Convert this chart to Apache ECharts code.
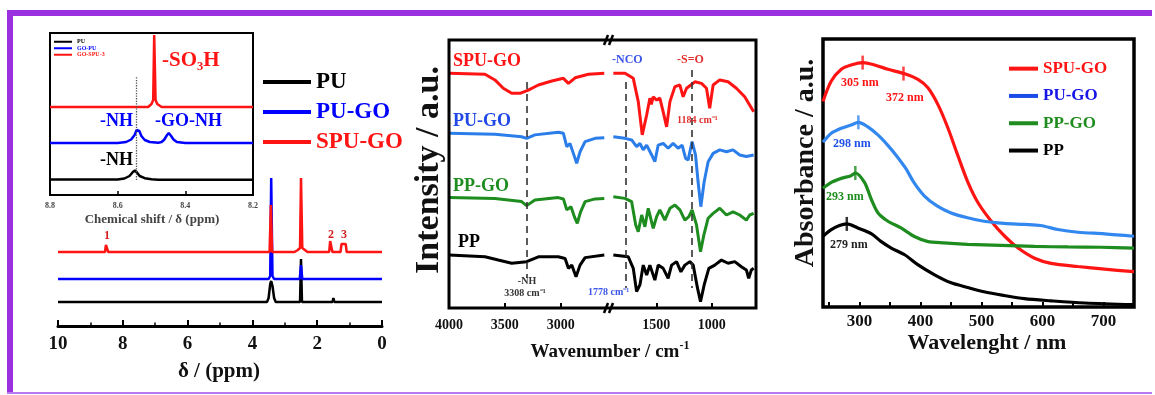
<!DOCTYPE html>
<html><head><meta charset="utf-8">
<script src="https://cdn.jsdelivr.net/npm/echarts@6/dist/echarts.min.js"></script>
<style>html,body{margin:0;padding:0;background:#fff}#c{width:1155px;height:395px}</style>
</head><body><div id="c"></div>
<script>
// ---------- NMR main spectrum (ppm, relative intensity) ----------
const nmrPU = [[10,24],[3.55,24],[3.5,28],[3.45,42],[3.42,45],[3.38,40],[3.33,28],[3.28,24],[2.53,24],[2.5,67],[2.47,24],[1.53,24],[1.5,28],[1.47,24],[0,24]];
const nmrPUGO = [[10,47],[3.5,47],[3.45,50],[3.42,148],[3.38,50],[3.33,47],[3.0,47],[2.95,49],[2.9,47],[2.85,49],[2.8,47],[2.54,47],[2.5,61],[2.46,47],[2.0,47],[1.97,49],[1.94,47],[0,47]];
const nmrSPUGO = [[10,74],[8.55,74],[8.52,81],[8.48,81],[8.45,74],[3.47,74],[3.43,121],[3.39,74],[2.7,74],[2.6,76],[2.53,78],[2.5,148],[2.46,78],[2.4,76],[2.3,74],[1.63,74],[1.6,85],[1.56,85],[1.53,74],[1.28,74],[1.25,82],[1.12,82],[1.09,74],[0.85,74],[0.8,76],[0.75,74],[0,74]];
const nmrTicks = [10, 8, 6, 4, 2, 0];
// ---------- NMR inset (8.8 - 8.2 ppm) ----------
const insPU = [[8.8,15.5],[8.6,15.5],[8.58,16.5],[8.565,19],[8.555,23],[8.549,24.5],[8.543,22.5],[8.535,19],[8.52,16.8],[8.5,15.8],[8.48,15.3],[8.2,15.3]];
const insGOPU = [[8.8,52],[8.6,52],[8.575,53],[8.56,55.5],[8.55,60],[8.544,65],[8.541,67],[8.536,64],[8.53,59],[8.52,55],[8.505,53],[8.48,52.3],[8.47,53],[8.462,55.5],[8.455,59.5],[8.449,62],[8.443,59.5],[8.435,55.5],[8.425,53],[8.4,52],[8.2,52]];
const insGOSPU = [[8.8,88],[8.66,88],[8.655,89.5],[8.65,88],[8.51,88],[8.5,91],[8.495,95],[8.492,160],[8.488,95],[8.483,91],[8.47,88],[8.425,88],[8.42,90],[8.415,88],[8.32,88],[8.315,89.5],[8.31,88],[8.2,88]];
// ---------- FTIR (wavenumber, offset transmittance) ----------
const irSPU_hi = [[4000,87.6],[3678,87.2],[3589,85.1],[3514,82],[3439,80.1],[3364,80.1],[3290,81.3],[3200,83.2],[3080,84.7],[2976,85.7],[2931,83.8],[2871,85.9],[2752,87.2],[2610,87.6]];
const irSPU_lo = [[1888,87.6],[1783,87.6],[1708,85.7],[1663,77],[1627,64.6],[1587,72],[1558,78.3],[1545,76],[1528,78.8],[1497,77.6],[1468,78.3],[1438,73.2],[1407,67.6],[1377,77],[1332,82.6],[1287,83.2],[1258,78.8],[1227,82],[1188,83.2],[1152,84.4],[1092,83.8],[1047,82],[1018,74.5],[987,83.2],[927,85.1],[852,84.4],[777,82],[702,78.8],[621,73.2]];
const irPUGO_hi = [[4000,65.2],[3589,64.8],[3350,63.9],[3305,63.3],[3231,64.6],[3022,65.6],[2976,65.2],[2946,60.2],[2917,61.4],[2887,57.7],[2857,54],[2827,58.3],[2782,62.1],[2692,63.3],[2610,63.5]];
const irPUGO_lo = [[1888,63.9],[1783,63.3],[1723,62.7],[1678,60.2],[1648,61.4],[1618,59],[1587,60.8],[1542,57.1],[1513,54.6],[1483,60.8],[1438,61.4],[1393,59.6],[1348,61.4],[1303,59.6],[1267,60.8],[1236,55.9],[1213,55.2],[1177,62.1],[1146,57.1],[1123,47.1],[1098,37.8],[1068,47.1],[1032,54.6],[987,57.7],[927,59],[867,58.3],[807,59],[747,57.1],[687,56.5],[621,57.1]];
const irPPGO_hi = [[4000,41.2],[3589,40.9],[3350,39.7],[3305,38.2],[3231,40.3],[3022,41.2],[2976,40.7],[2946,36.6],[2908,37.8],[2878,34.1],[2852,31.6],[2822,35.9],[2782,39.7],[2692,40.7],[2610,40.9]];
const irPPGO_lo = [[1888,41.5],[1783,40.9],[1723,39.7],[1686,31],[1663,28.5],[1632,34.7],[1603,30.3],[1573,37.2],[1528,29.7],[1497,34.1],[1468,36.6],[1423,32.8],[1377,37.2],[1332,38.4],[1287,36.6],[1242,32.8],[1206,34.1],[1177,36.6],[1137,31],[1101,21],[1071,27.2],[1032,33.5],[987,35.3],[927,37.2],[867,34.7],[807,35.9],[747,34.7],[687,32.8],[657,34.7],[621,35.3]];
const irPP_hi = [[4000,19.8],[3678,19.1],[3559,17.9],[3439,16.7],[3305,17.3],[3200,19.1],[3022,19.1],[2961,18.5],[2931,14.8],[2901,16],[2863,11.7],[2827,16],[2782,18.8],[2610,19.8]];
const irPP_lo = [[1888,19.8],[1753,19.1],[1708,14.8],[1678,6.1],[1648,8.6],[1618,16],[1587,12.3],[1558,16],[1513,10.4],[1483,16],[1438,14.8],[1393,11.1],[1362,16],[1317,17.3],[1278,13.5],[1242,16],[1197,17.3],[1167,16],[1128,7.4],[1101,2.4],[1068,8.6],[1026,14.8],[972,16],[912,17.9],[852,16.7],[792,17.3],[732,15.4],[687,14.2],[666,11.1],[642,14.2],[621,14.8]];
const irTicksHi = [3000, 3500, 4000];
const irTicksLo = [1000, 1500];
// ---------- UV-Vis (nm, absorbance) ----------
const uvSPU = [[240,76.7],[253.6,84.3],[270,88.7],[286,90.3],[305.6,91.2],[324.7,90.3],[346.6,88.7],[374,87],[395.7,84.9],[412,81.8],[428.5,75.5],[445,66.7],[461,56.6],[477.7,46.5],[494,39],[516,32],[538,26.4],[560,22],[587,18.2],[614,16.3],[658,15.1],[702,14.1],[750,13.2]];
const uvPUGO = [[240,61.5],[253.6,64.8],[270,66.7],[286,67.9],[298,68.9],[313,67.3],[330,64.2],[346,60.4],[362,56],[376,51.6],[389,46.5],[406,41.5],[427,37.7],[449,35.2],[477,33.3],[504,32],[537,31.2],[570,30.8],[597,30.4],[625,28.9],[658,27.9],[702,27.3],[750,26.4]];
const uvPPGO = [[240,44.3],[253.6,46.5],[270,48],[286,49],[293,50],[308,46.5],[319,40.3],[330,35.2],[346.5,32],[368,29.5],[389,26.4],[411,24.5],[438,23.9],[477,23.4],[532,23],[587,22.6],[642,22.4],[696,22.3],[750,22]];
const uvPP = [[240,26.4],[253.6,28.9],[267,30.4],[279,31],[297,29.5],[319,27.4],[335,24.5],[352,22],[374,19.5],[396,15.7],[423,12],[449,9.1],[477,7.3],[504,5.7],[537,4.3],[570,3.1],[614,2.3],[669,1.5],[750,0.9]];
const uvPeaksSPU = [[305,91.2],[372,87.1]];
const uvPeaksPUGO = [[298,68.9]];
const uvPeaksPPGO = [[293,50]];
const uvPeaksPP = [[279,31]];
const uvTickVals = [250,300,350,400,450,500,550,600,650,700,750];
const uvLabelVals = [300,400,500,600,700];

const F = "'Liberation Serif','Times New Roman',serif";
const C = {red:'#ff1414', nblue:'#0000ff', irBlue:'#2b7de9', green:'#1e8c1e', uvBlue:'#3388f0', black:'#000'};

function line(name, data, gi, color, width, extra) {
  return Object.assign({type:'line', name, data, xAxisIndex:gi, yAxisIndex:gi, showSymbol:false, symbol:'none',
    lineStyle:{color, width}, itemStyle:{color}, animation:false, silent:true}, extra || {});
}
function marks(data, color) {
  return {type:'scatter', name:'mk', data, xAxisIndex:4, yAxisIndex:4, symbol:'rect', symbolSize:[2.5,14],
    itemStyle:{color}, animation:false, silent:true, z:5};
}
function T(text, x, y, size, color, align, extra) {
  const el = {type:'text', x, y, z:100, silent:true,
    style:{text, fill:color, font:'bold ' + size + 'px ' + F, align:align || 'left', verticalAlign:'middle'}};
  if (extra) { Object.assign(el, extra.el || {}); Object.assign(el.style, extra.style || {}); }
  return el;
}
const dash = {symbol:'none', silent:true, label:{show:false}, lineStyle:{type:[7,5], color:'#333', width:1.6}, animation:false};
const plain = v => String(Math.round(v));

const axisFont = {fontFamily:F, fontWeight:'bold', color:'#111'};
const option = {
  backgroundColor:'#fff',
  animation:false,
  grid:[
    {left:58, top:176, width:324, height:150, outerBoundsMode:'none'},
    {left:50, top:33, width:203, height:162, show:true, borderColor:'#000', borderWidth:2, backgroundColor:'transparent', outerBoundsMode:'none'},
    {left:449, top:40, width:162, height:268, outerBoundsMode:'none'},
    {left:612, top:40, width:144, height:268, outerBoundsMode:'none'},
    {left:823, top:39, width:311, height:268, show:true, borderColor:'#000', borderWidth:3.5, backgroundColor:'transparent', outerBoundsMode:'none'}
  ],
  xAxis:[
    {gridIndex:0, type:'value', min:0, max:10, interval:2, inverse:true,
      axisLine:{show:true, onZero:false, lineStyle:{color:'#000', width:3}},
      axisTick:{show:true, inside:true, length:6, lineStyle:{color:'#000', width:2}},
      minorTick:{show:true, splitNumber:2, length:3.5, lineStyle:{color:'#000', width:1.5}},
      axisLabel:Object.assign({fontSize:19, margin:9, customValues:nmrTicks, formatter:plain}, axisFont), splitLine:{show:false}},
    {gridIndex:1, type:'value', min:8.2, max:8.8, interval:0.2, inverse:true,
      axisLine:{show:true, onZero:false, lineStyle:{color:'#000', width:2}},
      axisTick:{show:true, inside:true, length:4, lineStyle:{color:'#000', width:1.5}},
      axisLabel:{fontFamily:F, fontWeight:'bold', color:'#444', fontSize:8, margin:7, formatter:v => Number(v).toFixed(1)},
      splitLine:{show:false}},
    {gridIndex:2, type:'value', min:2550, max:4000, inverse:true, axisLine:{show:false},
      axisTick:{show:true, inside:true, length:5, customValues:irTicksHi, lineStyle:{color:'#000', width:2}},
      axisLabel:Object.assign({fontSize:14, margin:10, customValues:irTicksHi, formatter:plain}, axisFont), splitLine:{show:false}},
    {gridIndex:3, type:'value', min:600, max:1900, inverse:true, axisLine:{show:false},
      axisTick:{show:true, inside:true, length:5, customValues:irTicksLo, lineStyle:{color:'#000', width:2}},
      axisLabel:Object.assign({fontSize:14, margin:10, customValues:irTicksLo, formatter:plain}, axisFont), splitLine:{show:false}},
    {gridIndex:4, type:'value', min:240, max:750, axisLine:{show:false},
      axisTick:{show:true, inside:true, length:5, customValues:uvTickVals, lineStyle:{color:'#000', width:2}},
      axisLabel:Object.assign({fontSize:17, margin:6, customValues:uvLabelVals, formatter:plain}, axisFont), splitLine:{show:false}}
  ],
  yAxis:[
    {gridIndex:0, type:'value', min:0, max:150, show:false},
    {gridIndex:1, type:'value', min:0, max:162, show:false},
    {gridIndex:2, type:'value', min:0, max:100, show:false},
    {gridIndex:3, type:'value', min:0, max:100, show:false},
    {gridIndex:4, type:'value', min:0, max:100, show:false}
  ],
  legend:[
    {left:263, top:67, orient:'vertical', padding:0, itemGap:0, itemWidth:48, itemHeight:4, icon:'rect', selectedMode:false,
      formatter:n => n.split('|')[0],
      textStyle:{fontFamily:F, fontWeight:'bold', fontSize:23, lineHeight:30},
      data:[{name:'PU|nmr', itemStyle:{color:'#000'}, textStyle:{color:'#000'}},
            {name:'PU-GO|nmr', itemStyle:{color:C.nblue}, textStyle:{color:C.nblue}},
            {name:'SPU-GO|nmr', itemStyle:{color:C.red}, textStyle:{color:C.red}}]},
    {left:54, top:38.5, orient:'vertical', padding:0, itemGap:0, itemWidth:18, itemHeight:2, icon:'rect', selectedMode:false,
      formatter:n => n.split('|')[0],
      textStyle:{fontFamily:F, fontWeight:'bold', fontSize:6, lineHeight:6.5},
      data:[{name:'PU|ins', itemStyle:{color:'#000'}, textStyle:{color:'#000'}},
            {name:'GO-PU|ins', itemStyle:{color:C.nblue}, textStyle:{color:C.nblue}},
            {name:'GO-SPU-3|ins', itemStyle:{color:C.red}, textStyle:{color:C.red}}]},
    {left:1009, top:55, orient:'vertical', padding:0, itemGap:0, itemWidth:29, itemHeight:4, icon:'rect', selectedMode:false,
      textStyle:{fontFamily:F, fontWeight:'bold', fontSize:17, lineHeight:27.3},
      data:[{name:'SPU-GO', itemStyle:{color:C.red}, textStyle:{color:C.red}},
            {name:'PU-GO', itemStyle:{color:'#1a4ae8'}, textStyle:{color:'#1515e8'}},
            {name:'PP-GO', itemStyle:{color:C.green}, textStyle:{color:C.green}},
            {name:'PP', itemStyle:{color:'#000'}, textStyle:{color:'#000'}}]}
  ],
  series:[
    line('PU|nmr', nmrPU, 0, '#000', 2.5),
    line('PU-GO|nmr', nmrPUGO, 0, C.nblue, 2.5),
    line('SPU-GO|nmr', nmrSPUGO, 0, C.red, 2.5),
    line('PU|ins', insPU, 1, '#000', 2.5, {markLine:{symbol:'none', silent:true, label:{show:false}, animation:false,
      lineStyle:{type:'dotted', color:'#555', width:1.3}, data:[[{coord:[8.545,15]},{coord:[8.545,118]}]]}}),
    line('GO-PU|ins', insGOPU, 1, C.nblue, 2.5),
    line('GO-SPU-3|ins', insGOSPU, 1, C.red, 2.5),
    line('SPU-GO|ir', irSPU_hi, 2, C.red, 3, {markLine:Object.assign({data:[[{coord:[3308,84.3]},{coord:[3308,11.2]}]]}, dash)}),
    line('PU-GO|ir', irPUGO_hi, 2, C.irBlue, 3),
    line('PP-GO|ir', irPPGO_hi, 2, C.green, 3),
    line('PP|ir', irPP_hi, 2, '#000', 3),
    line('SPU-GO|ir2', irSPU_lo, 3, C.red, 3, {markLine:Object.assign({data:[[{coord:[1778,84.3]},{coord:[1778,7.5]}],[{coord:[1184,88.8]},{coord:[1184,7.5]}]]}, dash)}),
    line('PU-GO|ir2', irPUGO_lo, 3, C.irBlue, 3),
    line('PP-GO|ir2', irPPGO_lo, 3, C.green, 3),
    line('PP|ir2', irPP_lo, 3, '#000', 3),
    line('SPU-GO', uvSPU, 4, C.red, 3.2, {smooth:0.3}),
    line('PU-GO', uvPUGO, 4, C.uvBlue, 3.2, {smooth:0.3}),
    line('PP-GO', uvPPGO, 4, C.green, 3.2, {smooth:0.3}),
    line('PP', uvPP, 4, '#000', 3.2, {smooth:0.3}),
    marks(uvPeaksSPU, C.red), marks(uvPeaksPUGO, C.uvBlue), marks(uvPeaksPPGO, C.green), marks(uvPeaksPP, '#000')
  ],
  graphic:[
    // purple frame
    {type:'rect', shape:{x:7, y:10, width:1145, height:6}, style:{fill:'#9b30e0'}, silent:true},
    {type:'rect', shape:{x:7, y:10, width:6, height:384}, style:{fill:'#9b30e0'}, silent:true},
    {type:'rect', shape:{x:7, y:392, width:1145, height:2}, style:{fill:'#b878f0'}, silent:true},
    // FTIR box with break marks
    {type:'rect', shape:{x:449, y:40, width:307, height:268}, style:{fill:'none', stroke:'#000', lineWidth:3}, silent:true, z:50},
    {type:'line', shape:{x1:604, y1:45, x2:608, y2:35}, style:{stroke:'#000', lineWidth:2.5}, z:60, silent:true},
    {type:'line', shape:{x1:609, y1:45, x2:613, y2:35}, style:{stroke:'#000', lineWidth:2.5}, z:60, silent:true},
    {type:'line', shape:{x1:604, y1:313, x2:608, y2:303}, style:{stroke:'#000', lineWidth:2.5}, z:60, silent:true},
    {type:'line', shape:{x1:609, y1:313, x2:613, y2:303}, style:{stroke:'#000', lineWidth:2.5}, z:60, silent:true},
    // NMR inset annotations
    T('-SO₃H', 162, 61, 21, C.red),
    T('-NH', 100, 121, 18, C.nblue),
    T('-GO-NH', 155, 121, 18, C.nblue),
    T('-NH', 100, 160, 18, '#000'),
    T('Chemical shift / δ (ppm)', 152, 220, 13, '#444', 'center'),
    // NMR main annotations
    T('1', 107, 236, 12, '#d42020', 'center'),
    T('2', 331, 235, 12, '#d42020', 'center'),
    T('3', 344, 235, 12, '#d42020', 'center'),
    T('δ / (ppm)', 219, 372, 21, '#111', 'center'),
    // FTIR labels
    T('SPU-GO', 453, 61, 18, C.red),
    T('PU-GO', 453, 121, 18, '#1f48e6'),
    T('PP-GO', 453, 186, 18, C.green),
    T('PP', 458, 242, 18, '#000'),
    T('-NCO', 612, 60, 12, '#3a55e8'),
    T('-S=O', 677, 60, 12, '#e03030'),
    T('1184 cm⁻¹', 677, 120, 10, '#e03030'),
    T('-NH', 527, 281, 10, '#333', 'center'),
    T('3308 cm⁻¹', 525, 293, 10, '#333', 'center'),
    T('1778 cm⁻¹', 588, 292, 10, '#3a55e8'),
    T('Intensity / a.u.', 429, 170, 34, '#111', 'center', {el:{rotation:Math.PI/2}}),
    T('Wavenumber / cm{s|-1}', 610, 352, 19, '#111', 'center', {style:{lineHeight:24, rich:{s:{font:'bold 12px ' + F, fill:'#111', verticalAlign:'top'}}}}),
    // UV labels
    T('305 nm', 841, 83, 12, C.red),
    T('372 nm', 886, 98, 12, C.red),
    T('298 nm', 833, 144, 12, '#2050e8'),
    T('293 nm', 826, 197, 12, C.green),
    T('279 nm', 830, 245, 12, '#222'),
    T('Absorbance / a.u.', 806, 163, 28, '#111', 'center', {el:{rotation:Math.PI/2}}),
    T('Wavelenght / nm', 987, 343, 22, '#111', 'center')
  ]
};
const chart = echarts.init(document.getElementById('c'), null, {renderer:'canvas'});
chart.setOption(option);
</script></body></html>
